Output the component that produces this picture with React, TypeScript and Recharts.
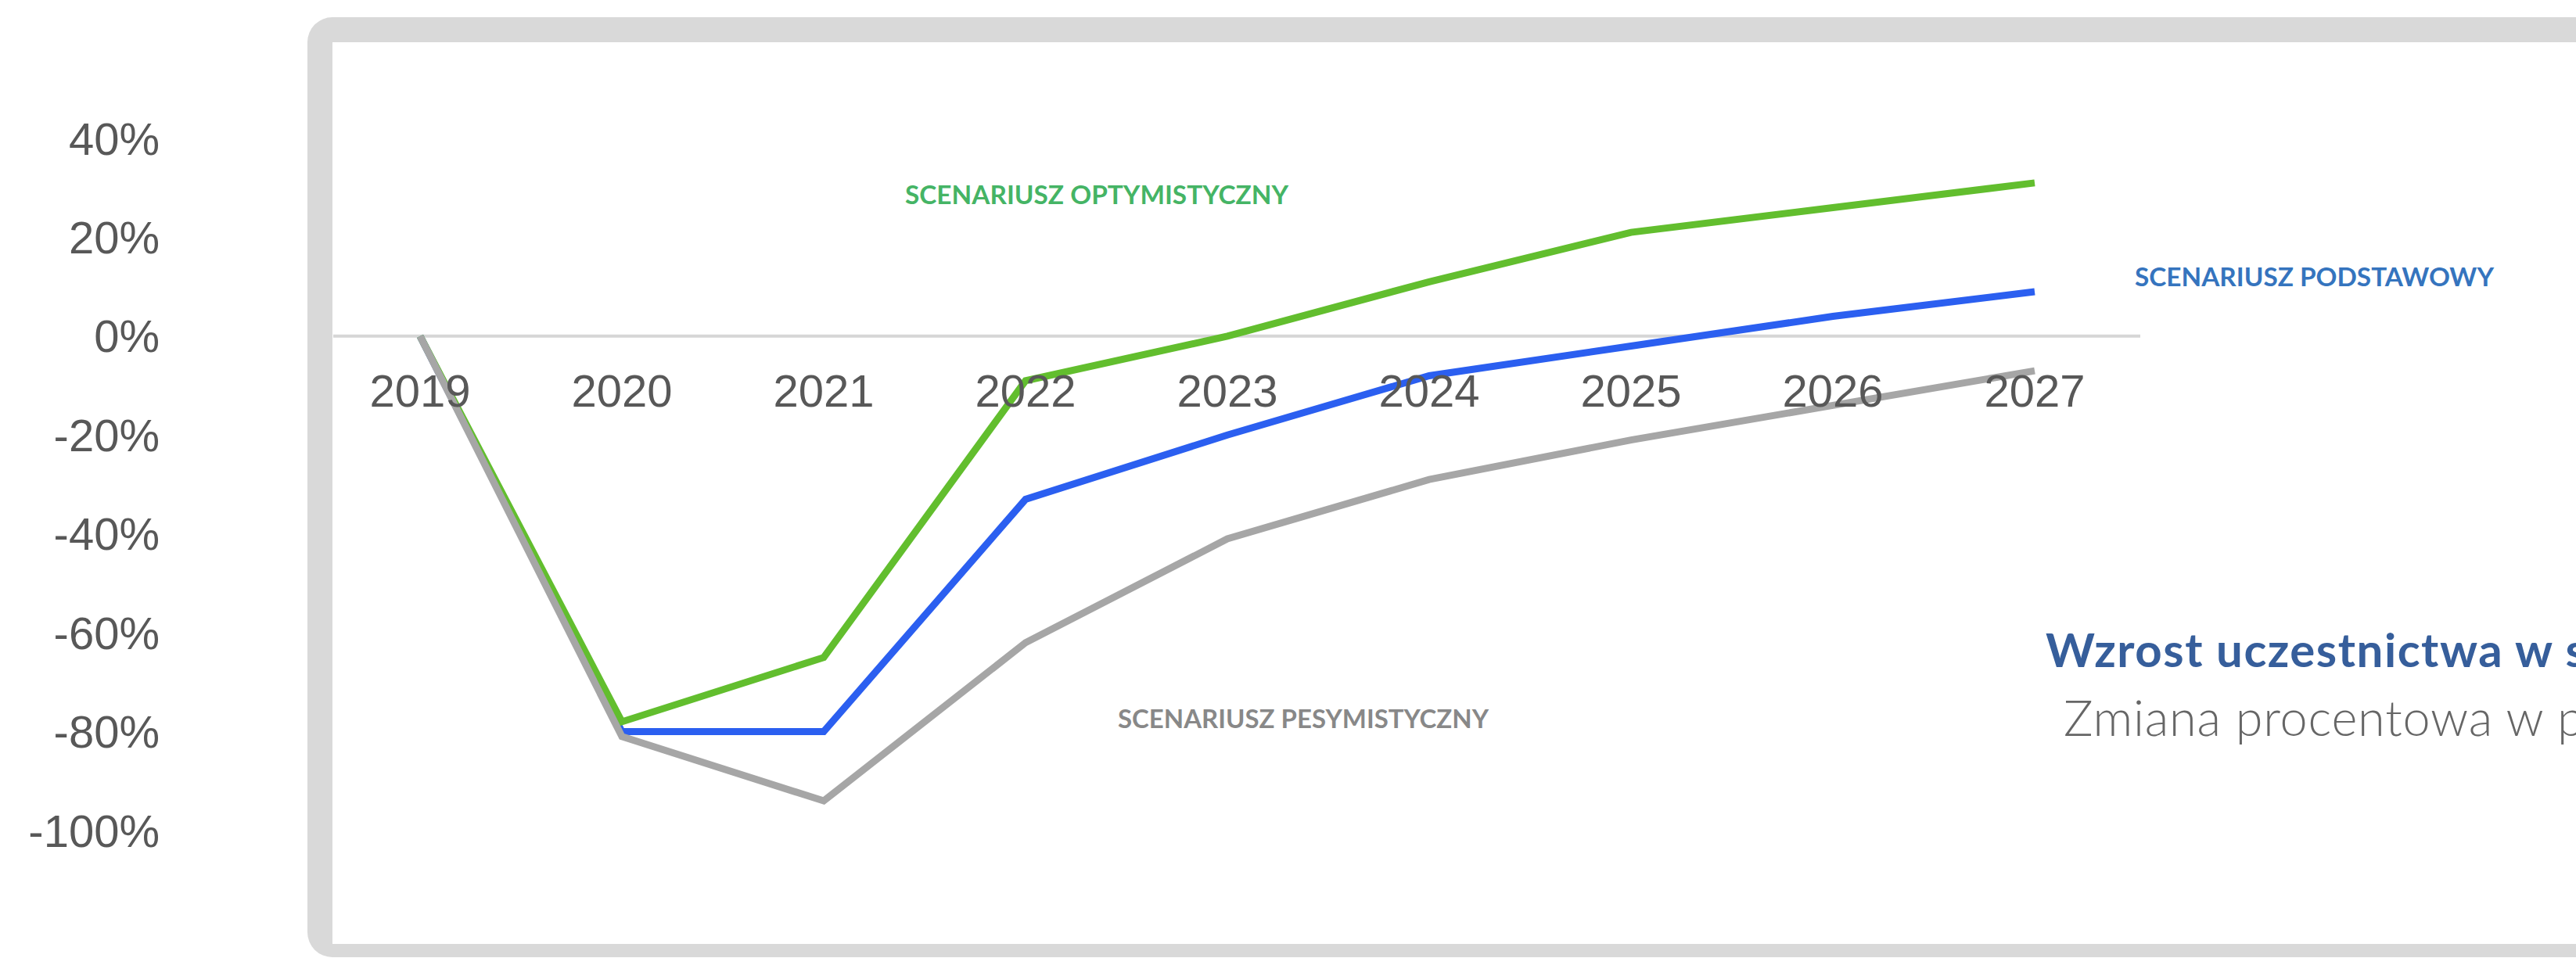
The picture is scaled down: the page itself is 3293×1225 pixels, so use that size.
import React from "react";
import { LineChart, Line, XAxis, YAxis, ReferenceLine } from "recharts";

const years = ["2019", "2020", "2021", "2022", "2023", "2024", "2025", "2026", "2027"];
const optimistic = [0, -78, -65, -9, 0, 11, 21, 26, 31];
const baseline = [0, -80, -80, -33, -20, -8, -2, 4, 9];
const pessimistic = [0, -81, -94, -62, -41, -29, -21, -14, -7];
const yTicks = [-100, -80, -60, -40, -20, 0, 20, 40];

const Y_MIN = -100;
const Y_MAX = 40;

const W = 3293;
const H = 1225;
const M_TOP = 177;
const M_BOTTOM = 133;
const X_AXIS_H = 30;
const M_RIGHT = 557;
const Y_AXIS_W = 426;
const PLOT_H = H - M_TOP - M_BOTTOM - X_AXIS_H;

const data = years.map((y, i) => ({
  year: y,
  opt: optimistic[i],
  base: baseline[i],
  pes: pessimistic[i],
}));

const XTick = (props: any) => {
  const { x, y, payload } = props;
  const zeroY = y - (PLOT_H * (0 - Y_MIN)) / (Y_MAX - Y_MIN);
  return (
    <text
      x={x}
      y={zeroY + 70}
      textAnchor="middle"
      dominantBaseline="central"
      fill="#585858"
      fontFamily="'Liberation Sans', Arial, sans-serif"
      fontSize={58}
    >
      {payload.value}
    </text>
  );
};

export default function App() {
  return (
    <div
      style={{
        position: "absolute",
        left: 0,
        top: 0,
        width: W,
        height: H,
        overflow: "hidden",
        background: "#ffffff",
      }}
    >
      <div
        style={{
          position: "absolute",
          left: 393,
          top: 22,
          width: W - 393 + 200,
          height: 1202,
          boxSizing: "border-box",
          borderStyle: "solid",
          borderColor: "#d9d9d9",
          borderWidth: "32px 32px 17px 32px",
          borderRadius: 32,
          background: "#ffffff",
        }}
      />
      <div style={{ position: "absolute", left: 0, top: 0 }}>
        <LineChart
          width={W}
          height={H}
          data={data}
          margin={{ top: M_TOP, right: M_RIGHT, bottom: M_BOTTOM, left: 0 }}
        >
          <XAxis
            dataKey="year"
            scale="point"
            padding={{ left: 111, right: 135 }}
            axisLine={false}
            tickLine={false}
            tickSize={0}
            tickMargin={0}
            height={X_AXIS_H}
            interval={0}
            tick={XTick}
          />
          <YAxis
            type="number"
            domain={[Y_MIN, Y_MAX]}
            ticks={yTicks}
            width={Y_AXIS_W}
            axisLine={false}
            tickLine={false}
            tickSize={0}
            tickMargin={222}
            interval={0}
            tickFormatter={(v: number) => `${v}%`}
            tick={{
              fill: "#585858",
              fontSize: 58,
              fontFamily: "'Liberation Sans', Arial, sans-serif",
            }}
          />
          <ReferenceLine y={0} stroke="#d6d6d6" strokeWidth={4} />
          <Line
            type="linear"
            dataKey="base"
            stroke="#2b5ff0"
            strokeWidth={9}
            dot={false}
            isAnimationActive={false}
          />
          <Line
            type="linear"
            dataKey="opt"
            stroke="#62be2e"
            strokeWidth={9}
            dot={false}
            isAnimationActive={false}
          />
          <Line
            type="linear"
            dataKey="pes"
            stroke="#a6a6a6"
            strokeWidth={9}
            dot={false}
            isAnimationActive={false}
          />
        </LineChart>
      </div>
      <svg
        width={W}
        height={H}
        style={{ position: "absolute", left: 0, top: 0, pointerEvents: "none" }}
      >
        <text
          x={1157}
          y={261}
          fill="#45b465"
          fontFamily="Lato, sans-serif"
          fontWeight={700}
          fontSize={32}
          textLength={490}
          lengthAdjust="spacingAndGlyphs"
        >
          SCENARIUSZ OPTYMISTYCZNY
        </text>
        <text
          x={2729}
          y={366}
          fill="#3574be"
          fontFamily="Lato, sans-serif"
          fontWeight={700}
          fontSize={32}
          textLength={459}
          lengthAdjust="spacingAndGlyphs"
        >
          SCENARIUSZ PODSTAWOWY
        </text>
        <text
          x={1429}
          y={931}
          fill="#888888"
          fontFamily="Lato, sans-serif"
          fontWeight={700}
          fontSize={32}
          textLength={474}
          lengthAdjust="spacingAndGlyphs"
        >
          SCENARIUSZ PESYMISTYCZNY
        </text>
        <text
          x={2615}
          y={853}
          fill="#365e9b"
          fontFamily="Lato, sans-serif"
          fontWeight={700}
          fontSize={60}
          letterSpacing={1.5}
        >
          Wzrost uczestnictwa w s
        </text>
        <text
          x={2638}
          y={941}
          fill="#666666"
          fontFamily="Lato, sans-serif"
          fontWeight={300}
          fontSize={63}
          letterSpacing={0.8}
        >
          Zmiana procentowa w p
        </text>
      </svg>
    </div>
  );
}
